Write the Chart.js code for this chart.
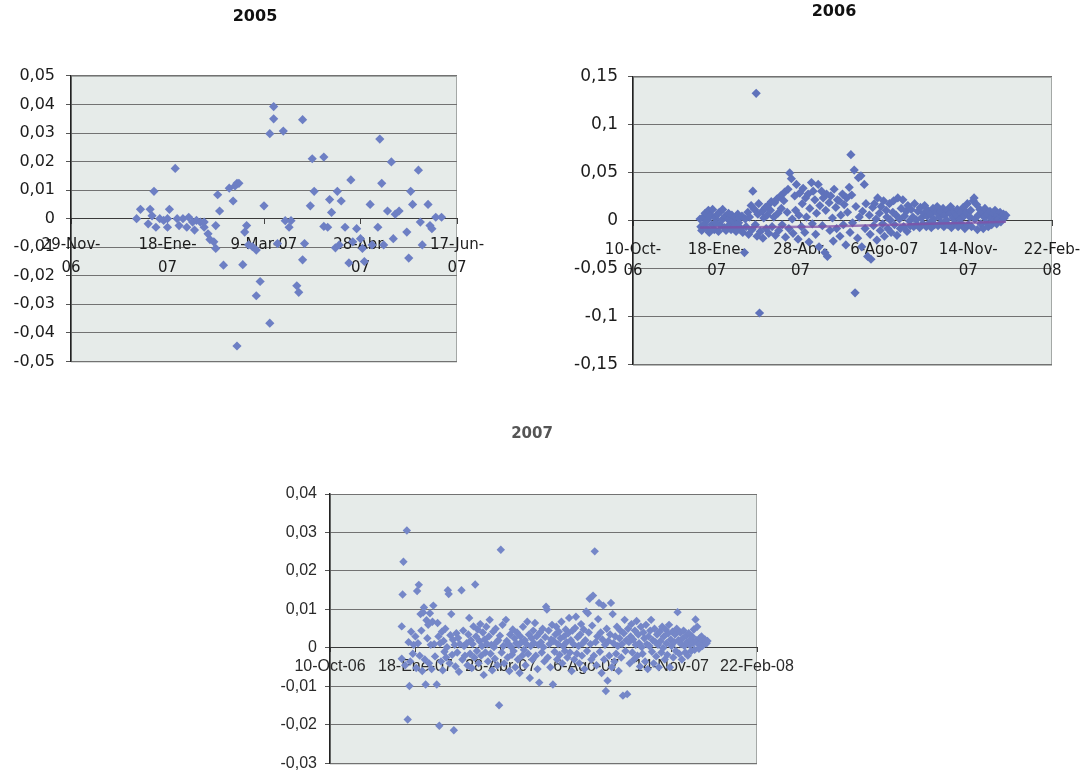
<!DOCTYPE html>
<html>
<head>
<meta charset="utf-8">
<script src="https://cdn.jsdelivr.net/npm/chart.js@4.4.1/dist/chart.umd.min.js"></script>
<style>
html,body{margin:0;padding:0;background:#ffffff;width:1084px;height:782px;overflow:hidden;position:relative;}
canvas{position:absolute;}
</style>
</head>
<body>
<canvas id="c2005"></canvas>
<canvas id="c2006"></canvas>
<canvas id="c2007"></canvas>
<script>
// ---------------- DATA ----------------
const titulos = ["2005", "2006", "2007"];

// y tick labels (Excel, comma decimals)
const ticksY2005 = ["-0,05","-0,04","-0,03","-0,02","-0,01","0","0,01","0,02","0,03","0,04","0,05"];
const ticksY2006 = ["-0,15","-0,1","-0,05","0","0,05","0,1","0,15"];
const ticksY2007 = ["-0,03","-0,02","-0,01","0","0,01","0,02","0,03","0,04"];

// x tick labels (dates)
const ticksX2005 = [["29-Nov-","06"],["18-Ene-","07"],"9-Mar-07",["28-Abr-","07"],["17-Jun-","07"]];
const ticksX2006 = [["10-Oct-","06"],["18-Ene-","07"],["28-Abr-","07"],"6-Ago-07",["14-Nov-","07"],["22-Feb-","08"]];
const ticksX2007 = ["10-Oct-06","18-Ene-07","28-Abr-07","6-Ago-07","14-Nov-07","22-Feb-08"];

// points: [days since first axis date, value]
const puntos2005 = [[34,0.000],[36,0.0033],[40,-0.0018],[41,0.0033],[42,0.001],[43,0.0096],[44,-0.003],[46,0.000],[48,-0.0006],[50,0.000],[50,-0.003],[51,0.0033],[54,0.0176],[55,0.000],[56,-0.0024],[58,0.000],[60,-0.003],[61,0.0005],[63,-0.0012],[64,-0.004],[65,-0.0006],[67,-0.0012],[69,-0.0012],[69,-0.003],[71,-0.0053],[72,-0.0073],[74,-0.0081],[75,-0.0104],[75,-0.0024],[76,0.0084],[77,0.0027],[79,-0.0163],[82,0.0107],[84,0.0062],[85,0.0115],[86,0.0124],[87,0.0124],[86,-0.0446],[89,-0.0161],[90,-0.0047],[91,-0.0024],[92,-0.0092],[94,-0.0098],[96,-0.011],[96,-0.027],[98,-0.022],[100,0.0045],[103,0.0298],[105,0.0393],[105,0.035],[103,-0.0366],[107,-0.0087],[110,0.0307],[111,-0.0007],[113,-0.003],[114,-0.0007],[117,-0.0235],[118,-0.0258],[120,-0.0144],[120,0.0347],[121,-0.0087],[124,0.0045],[125,0.021],[126,0.0096],[131,0.0216],[131,-0.0027],[133,-0.003],[134,0.0067],[135,0.0022],[137,-0.0102],[138,0.0096],[139,-0.0092],[140,0.0062],[142,-0.003],[144,-0.0155],[145,0.0136],[146,-0.0081],[148,-0.0035],[150,-0.007],[151,-0.0104],[152,-0.015],[155,0.005],[156,-0.0092],[159,-0.003],[160,0.0279],[161,0.0124],[162,-0.0092],[164,0.0027],[166,0.0199],[167,-0.007],[168,0.0016],[170,0.0027],[174,-0.0047],[175,-0.0138],[176,0.0096],[177,0.005],[180,0.017],[181,-0.0012],[182,-0.0092],[185,0.005],[186,-0.0024],[187,-0.0035],[189,0.0005],[192,0.0005]];

const puntos2006 = [[80,0.002],[81,-0.006],[82,-0.010],[84,0.004],[85,-0.003],[86,0.008],[88,-0.008],[89,0.001],[90,0.011],[91,-0.012],[93,0.006],[94,-0.004],[95,0.012],[97,-0.009],[98,0.003],[99,-0.002],[101,0.007],[102,-0.011],[103,0.009],[105,-0.005],[106,0.001],[107,0.012],[109,-0.007],[110,0.005],[111,-0.010],[113,0.002],[114,0.008],[115,-0.004],[117,-0.009],[118,0.006],[119,0.000],[121,-0.006],[122,0.004],[123,-0.011],[125,0.007],[126,-0.002],[127,0.003],[129,-0.008],[130,0.005],
[131,-0.012],[133,-0.033],[134,0.002],[135,-0.006],[137,0.009],[138,-0.014],[139,0.004],[141,0.016],[142,-0.009],[143,0.031],[145,0.012],[146,-0.004],[147,0.133],[148,-0.016],[149,0.007],[150,0.018],[151,-0.096],[152,-0.011],[154,0.010],[155,-0.018],[156,0.003],[158,0.014],[159,-0.008],[160,0.006],
[161,0.016],[162,-0.013],[164,0.011],[165,0.020],[166,-0.006],[168,0.004],[169,0.019],[170,-0.015],[172,0.023],[173,0.008],[174,-0.010],[176,0.026],[177,0.013],[178,-0.004],[180,0.021],[181,0.030],[182,-0.017],[184,0.009],[185,0.033],[186,-0.008],[187,0.050],[189,0.044],[190,0.002],[191,-0.013],[193,0.026],[194,0.011],[195,0.038],[197,-0.019],[198,0.006],[199,0.029],[201,-0.006],[202,0.018],[203,0.034],[205,-0.012],[206,0.024],[207,0.004],[209,0.028],[210,-0.022],[211,0.013],[213,0.040],[214,-0.003],[215,0.031],
[217,0.022],[218,-0.014],[219,0.008],[221,0.038],[222,-0.027],[223,0.016],[225,0.031],[226,-0.005],[227,0.024],[229,-0.033],[230,0.011],[231,0.028],[232,-0.037],[234,0.019],[235,-0.010],[236,0.026],[238,0.003],[239,-0.021],[240,0.033],[242,0.014],[243,-0.008],[244,0.022],[246,0.021],[247,-0.016],[248,0.006],[250,0.028],[251,-0.004],[252,0.017],[254,-0.025],[255,0.024],[256,0.009],[258,0.035],[259,-0.012],[260,0.069],[261,0.027],[262,-0.002],[264,0.053],[265,-0.075],[266,0.015],[268,-0.018],[269,0.045],[270,0.004],[272,0.047],[273,-0.027],[274,0.010],[276,0.038],[277,-0.008],[278,0.018],[280,-0.037],
[282,0.006],[283,-0.014],[284,-0.040],[286,0.014],[287,-0.005],[288,0.018],[290,0.002],[291,-0.020],[292,0.024],[294,0.008],[295,-0.010],[296,0.015],[298,-0.003],[299,0.021],[300,-0.016],[302,0.011],[303,0.004],[304,-0.008],[306,0.018],[307,0.001],[308,-0.012],[310,0.009],[311,0.021],[312,-0.004],[314,0.006],[315,-0.015],[316,0.024],[318,0.002],[319,-0.008],[320,0.013],[322,0.022],[323,-0.006],[324,0.005],[326,0.010],[327,-0.011],[328,0.016],[330,0.000],
[331,-0.005],[332,0.012],[334,0.004],[335,-0.006],[336,0.018],[338,0.001],[339,-0.004],[340,0.010],[342,-0.007],[343,0.014],[344,0.003],[346,-0.003],[347,0.008],[348,0.016],[350,-0.006],[351,0.005],[352,0.011],[354,-0.002],[355,0.007],[356,-0.007],[358,0.013],[359,0.002],[360,-0.004],[362,0.009],[363,0.015],[364,-0.005],[366,0.004],[367,0.010],[368,-0.002],[370,0.013],[371,-0.006],[372,0.006],[374,0.001],[375,0.011],[376,-0.004],[378,0.008],[379,0.015],[380,-0.007],[382,0.003],[383,0.010],[384,-0.002],[386,0.006],[387,0.012],[388,-0.006],[390,0.002],[391,0.009],[392,-0.003],[394,0.014],[395,0.005],[396,-0.008],[398,0.009],[399,0.018],[400,-0.004],[402,0.004],[403,0.011],[404,-0.006],[406,0.021],[407,0.024],[408,0.002],[410,0.017],[411,-0.009],[412,0.006],[414,0.012],[415,-0.003],[416,0.009],[418,-0.008],[419,0.004],[420,0.013],[422,-0.002],[423,0.007],[424,-0.006],[426,0.010],[427,0.003],[428,-0.004],[430,0.008],[431,0.001],[432,0.011],[434,-0.003],[435,0.006],[436,0.002],[438,0.009],[439,-0.001],[440,0.005],[442,0.007],[443,0.003],[445,0.006]];

// second (purple) series visible through the 2006 cloud
const linea2006 = [[80,-0.007],[220,-0.006],[445,-0.001]];

const puntos2007 = [[84,0.0056],[84,-0.0028],[85,0.0139],[86,0.0224],[88,-0.0045],[90,0.0305],[91,-0.0186],[92,0.0015],[93,-0.0099],[94,-0.0035],[95,0.0042],[97,-0.0015],[98,0.0008],[100,0.0030],[101,-0.0052],[102,0.0148],[103,0.0012],[104,0.0164],[105,-0.0020],[106,0.0088],[107,0.0045],[108,-0.0060],[109,0.0092],[110,0.0105],[111,-0.0030],[112,-0.0095],[113,0.0072],[114,0.0025],[115,0.0060],[116,-0.0040],[117,0.0090],[118,0.0008],[119,-0.0055],[120,0.0068],[121,0.0110],[122,0.0010],[123,-0.0022],[125,-0.0095],[126,0.0065],[127,0.0030],[128,-0.0202],[129,0.0012],[130,-0.0035],[131,0.0042],[132,-0.0058],[133,0.0018],[134,-0.0010],[135,0.0050],[136,-0.0025],[137,0.0002],[138,0.0150],[139,0.0140],[140,-0.0040],[141,0.0033],[142,0.0088],[143,-0.0018],[144,0.0021],[145,-0.0214],[146,0.0008],[147,-0.0048],[148,0.0038],[149,-0.0012],[150,0.0026],[151,-0.0062],[152,0.0010],[154,0.0150],[155,-0.0030],[156,0.0045],[157,0.0005],[158,-0.0020],[160,0.0012],[161,-0.0045],[162,0.0035],[163,0.0078],[164,-0.0015],[165,0.0020],[166,-0.0052],[167,0.0010],[168,0.0056],[169,-0.0025],[170,0.0165],[171,0.0030],[172,-0.0008],[173,0.0048],[174,-0.0040],[175,0.0018],[176,0.0062],[177,-0.0020],[178,0.0005],[179,0.0040],[180,-0.0070],[181,0.0022],[182,-0.0012],[183,0.0055],[184,0.0010],[185,-0.0035],[186,0.0030],[187,0.0073],[188,-0.0015],[189,0.0008],[190,-0.0058],[191,0.0042],[192,0.0002],[193,-0.0028],[194,0.0050],[195,0.0015],[196,-0.0045],[197,0.0020],[198,-0.0149],[199,0.0032],[200,0.0255],[201,-0.0012],[202,0.0060],[203,0.0005],[204,-0.0040],[206,0.0073],[207,0.0018],[208,-0.0025],[209,0.0010],[210,-0.0060],[211,0.0035],[212,0.0003],[213,-0.0018],[214,0.0048],[215,-0.0008],[216,0.0025],[217,-0.0050],[218,0.0012],[219,0.0040],[220,-0.0030],[221,0.0008],[222,-0.0065],[223,0.0030],[224,0.0015],[225,-0.0020],[226,0.0055],[227,-0.0005],[228,0.0020],[229,-0.0045],[230,0.0010],[231,0.0068],[232,-0.0015],[233,0.0035],[234,-0.0078],[235,0.0005],[236,0.0025],[237,-0.0030],[238,0.0045],[239,0.0012],[240,0.0065],[241,-0.0020],[242,0.0030],[243,-0.0055],[244,0.0008],[245,-0.0090],[246,0.0040],[247,0.0015],[248,-0.0012],[249,0.0050],[250,0.0002],[251,-0.0035],[252,0.0028],[253,0.0107],[254,0.0100],[255,-0.0025],[256,0.0045],[257,0.0010],[258,-0.0050],[259,0.0022],[260,0.0060],[261,-0.0095],[262,0.0018],[263,-0.0010],[264,0.0035],[265,0.0055],[266,-0.0030],[267,0.0010],[268,0.0042],[269,-0.0018],[270,0.0025],[271,0.0068],[272,-0.0040],[273,0.0005],[274,0.0030],[275,-0.0008],[276,0.0048],[277,0.0015],[278,-0.0025],[279,0.0038],[280,0.0078],[281,-0.0012],[282,0.0020],[283,-0.0060],[284,0.0045],[285,0.0010],[286,-0.0030],[287,0.0052],[288,0.0081],[289,-0.0015],[290,0.0028],[291,0.0005],[292,-0.0040],[293,0.0035],[294,0.0062],[295,-0.0020],[296,0.0012],[297,0.0048],[298,-0.0055],[299,0.0020],[300,0.0095],[301,-0.0008],[302,0.0090],[303,0.0040],[304,0.0128],[305,0.0010],[306,-0.0030],[307,0.0058],[308,0.0136],[309,-0.0020],[310,0.0251],[311,0.0015],[312,-0.0045],[313,0.0030],[314,0.0075],[315,0.0117],[316,-0.0010],[317,0.0040],[318,-0.0065],[319,0.0022],[320,0.0110],[321,-0.0030],[322,0.0008],[323,-0.0112],[324,0.0050],[325,-0.0085],[326,0.0018],[327,-0.0020],[328,0.0035],[329,0.0117],[330,-0.0050],[331,0.0088],[332,0.0012],[333,-0.0035],[334,0.0030],[335,-0.0015],[336,0.0055],[337,0.0005],[338,-0.0060],[339,0.0025],[340,0.0045],[341,-0.0025],[342,0.0010],[343,-0.0124],[344,0.0038],[345,0.0073],[346,-0.0008],[347,0.0020],[348,-0.0120],[349,0.0050],[350,0.0015],[351,-0.0040],[352,0.0030],[353,0.0062],[354,-0.0012],[355,0.0022],[356,-0.0030],[357,0.0045],[358,0.0008],[359,0.0070],[360,-0.0020],[361,0.0035],[362,0.0012],[363,-0.0048],[364,0.0055],[365,0.0002],[366,-0.0015],[367,0.0040],[368,0.0025],[369,-0.0035],[370,0.0060],[371,0.0010],[372,-0.0055],[373,0.0030],[374,0.0005],[375,0.0045],[376,0.0073],[377,-0.0010],[378,0.0020],[379,-0.0040],[380,0.0050],[381,0.0015],[382,-0.0022],[383,0.0035],[384,0.0008],[385,-0.0050],[386,0.0042],[387,0.0018],[388,-0.0012],[389,0.0055],[390,0.0000],[391,0.0030],[392,-0.0030],[393,0.0048],[394,0.0012],[395,-0.0018],[396,0.0038],[397,0.0060],[398,-0.0050],[399,0.0022],[400,0.0005],[401,0.0042],[402,-0.0025],[403,0.0015],[404,0.0035],[405,-0.0008],[406,0.0050],[407,0.0093],[408,0.0020],[409,-0.0015],[410,0.0040],[411,0.0010],[412,-0.0030],[413,0.0025],[414,0.0045],[415,0.0005],[416,-0.0012],[417,0.0032],[418,0.0015],[419,-0.0020],[420,0.0038],[421,0.0008],[422,0.0022],[423,-0.0008],[424,0.0030],[425,0.0012],[426,0.0048],[427,-0.0005],[428,0.0074],[429,0.0020],[430,0.0055],[431,0.0010],[432,-0.0002],[433,0.0025],[434,0.0012],[435,0.0030],[436,0.0005],[437,0.0018],[438,0.0010],[439,0.0022],[440,0.0015],[441,0.0012],[442,0.0018]];

// ---------------- LAYOUT / STYLE ----------------
const plotBg = {
  id: 'plotBg',
  beforeDraw(chart) {
    const a = chart.chartArea, ctx = chart.ctx;
    ctx.save();
    ctx.fillStyle = '#e6ebe9';
    ctx.fillRect(a.left, a.top, a.right - a.left, a.bottom - a.top);
    ctx.strokeStyle = '#a4a8a6';
    ctx.lineWidth = 1;
    ctx.strokeRect(a.left + 0.5, a.top + 0.5, a.right - a.left - 1, a.bottom - a.top);
    ctx.restore();
  }
};

// g: L/R/top/bottom = plot area, T/titleY = title centre, CL/CT/CW = canvas box, yW = left axis width
function makeChart(id, g, s) {
  const canvas = document.getElementById(id);
  const CH = g.bottom - g.CT + g.PB;
  canvas.width = g.CW; canvas.height = CH;
  canvas.style.left = g.CL + 'px'; canvas.style.top = g.CT + 'px';
  canvas.style.width = g.CW + 'px'; canvas.style.height = CH + 'px';
  const yW = g.yW;
  const W2 = yW - (g.L + g.R - 2 * g.T);     // empty right axis keeps the title centred where it belongs
  const PL = g.L - yW - g.CL;
  const PR = g.CL + g.CW - g.R - W2;
  const lh = s.titleSize * 1.2;
  const tTop = g.titleY - g.CT - lh / 2;
  const tBottom = g.top - g.CT - tTop - lh;

  const datasets = [{
    label: s.title,
    data: s.points.map(p => ({x: p[0], y: p[1]})),
    pointStyle: 'rectRot',
    pointRadius: s.radius,
    backgroundColor: s.color,
    borderColor: s.color,
    borderWidth: 0,
    showLine: false,
    order: 2
  }];
  if (s.line) {
    datasets.push({
      label: 'serie2',
      data: s.line.map(p => ({x: p[0], y: p[1]})),
      showLine: true,
      pointRadius: 0,
      borderColor: 'rgba(128,80,165,0.75)',
      borderWidth: 2.5,
      order: 1
    });
  }

  new Chart(canvas, {
    type: 'scatter',
    data: {datasets},
    plugins: [plotBg],
    options: {
      responsive: false,
      animation: false,
      devicePixelRatio: 1,
      events: [],
      layout: {autoPadding: false, padding: {left: PL, right: PR, top: 0, bottom: g.PB}},
      plugins: {
        legend: {display: false},
        tooltip: {enabled: false},
        title: {
          display: true, text: s.title, color: s.titleColor,
          font: {family: "'DejaVu Sans', sans-serif", size: s.titleSize, weight: 'bold'},
          padding: {top: tTop, bottom: tBottom}
        }
      },
      scales: {
        x: {
          type: 'linear',
          position: {y: 0},
          min: s.xMin, max: s.xMax,
          afterFit(sc) { sc.paddingLeft = 0; sc.paddingRight = 0; },
          ticks: {
            stepSize: s.xStep, autoSkip: false, maxRotation: 0, minRotation: 0,
            padding: s.xPad, color: s.textColor,
            font: {family: s.fontX, size: s.xSize, lineHeight: s.xLH},
            callback: (v) => s.xLabels[Math.round((v - s.xMin) / s.xStep)]
          },
          grid: {display: true, drawOnChartArea: false, tickLength: s.xTick, tickColor: '#444', color: '#444'},
          border: {display: true, color: '#3a3a3a', width: 1}
        },
        y: {
          type: 'linear',
          position: 'left',
          min: s.yMin, max: s.yMax,
          afterFit(sc) { sc.width = yW; },
          ticks: {
            stepSize: s.yStep, autoSkip: false, padding: s.yPad, color: s.textColor,
            font: {family: s.fontY, size: s.ySize},
            callback: (v) => s.yLabels[Math.round((v - s.yMin) / s.yStep)]
          },
          grid: {color: '#727272', lineWidth: 1, tickLength: 5, tickColor: '#555'},
          border: {display: true, color: '#222', width: 1.5}
        },
        yR: {
          type: 'linear',
          position: 'right',
          afterFit(sc) { sc.width = W2; },
          ticks: {display: false},
          grid: {display: false, drawOnChartArea: false},
          border: {display: false}
        }
      }
    }
  });
}

const dv = "'DejaVu Sans', sans-serif";
const narrow = "'Liberation Sans Narrow', 'Arial Narrow', 'Liberation Sans', sans-serif";

makeChart('c2005',
  {L: 71, R: 457, T: 255, top: 76, bottom: 368, titleY: 16.5, CL: 0, CT: 0, CW: 560, PB: 14, yW: 70},
  {title: titulos[0], titleSize: 16, titleColor: '#111', points: puntos2005, radius: 4.6, color: '#6d7fc4',
   xMin: 0, xMax: 200, xStep: 50, xLabels: ticksX2005, fontX: dv, xSize: 15, xLH: 1.53, xPad: 10, xTick: 5,
   yMin: -0.05, yMax: 0.05, yStep: 0.01, yLabels: ticksY2005, fontY: dv, ySize: 16, yPad: 11, textColor: '#1c1c1c'});

makeChart('c2006',
  {L: 633, R: 1052, T: 834, top: 77, bottom: 371, titleY: 11.5, CL: 545, CT: 0, CW: 620, PB: 14, yW: 80},
  {title: titulos[1], titleSize: 16, titleColor: '#111', points: puntos2006, line: linea2006, radius: 4.6, color: '#5f72bb',
   xMin: 0, xMax: 500, xStep: 100, xLabels: ticksX2006, fontX: dv, xSize: 15, xLH: 1.4, xPad: 14, xTick: 5,
   yMin: -0.15, yMax: 0.15, yStep: 0.05, yLabels: ticksY2006, fontY: dv, ySize: 17, yPad: 10, textColor: '#1c1c1c'});

makeChart('c2007',
  {L: 330, R: 757, T: 532, top: 494, bottom: 771, titleY: 434, CL: 240, CT: 400, CW: 640, PB: 10, yW: 70},
  {title: titulos[2], titleSize: 15, titleColor: '#555', points: puntos2007, radius: 4.2, color: '#7587c8',
   xMin: 0, xMax: 500, xStep: 100, xLabels: ticksX2007, fontX: narrow, xSize: 16, xLH: 1.2, xPad: 5, xTick: 4,
   yMin: -0.03, yMax: 0.04, yStep: 0.01, yLabels: ticksY2007, fontY: narrow, ySize: 16, yPad: 8, textColor: '#2a2a2a'});
</script>
</body>
</html>
